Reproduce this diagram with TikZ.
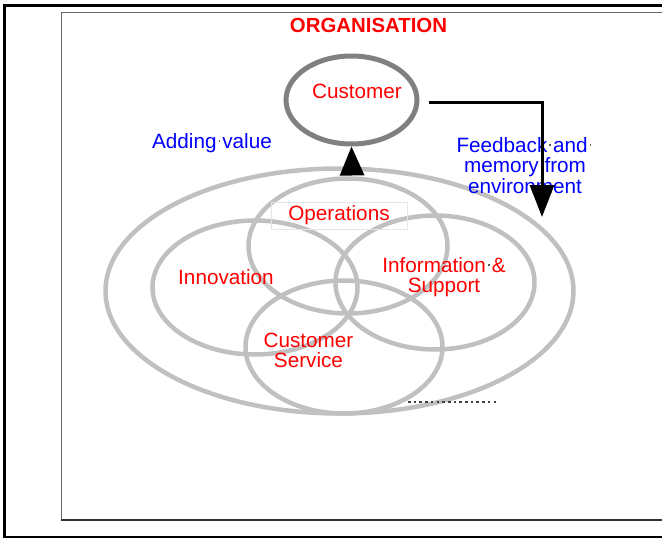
\documentclass[tikz,border=0pt]{standalone}
\usepackage{fontspec}
\setmainfont{Liberation Sans}
\usetikzlibrary{arrows.meta,shapes.geometric}

\definecolor{ringgray}{RGB}{192,192,192}
\definecolor{custgray}{RGB}{128,128,128}
\newcommand{\dotsp}{\makebox[0.278em]{\textcolor{black!65}{\rule[0.3em]{1.7pt}{1.7pt}}}}

\begin{document}
\begin{tikzpicture}[x=1pt, y=-1pt,
  every node/.style={font=\fontsize{20.7}{20.5}\selectfont, align=center, inner sep=0pt},
  ring/.style={ellipse, draw=ringgray, line width=4.5pt},
  lbl/.style={text=red},
  note/.style={text=blue},
  arr/.style={line width=3pt, -{Triangle[length=#1,width=24pt]}},
  arr/.default=32pt
]
\useasboundingbox (0,0) rectangle (662,538);
\clip (0,0) rectangle (662,538);

\draw[black!60, line width=1pt] (700,12) -- (61,12) -- (61,520);
\draw[black!80, line width=1.2pt] (61,520) -- (700,520);
\draw[line width=3pt] (4,540) -- (4,5) -- (700,5);
\draw[line width=1.5pt] (4,537) -- (700,537);

\node[ring, minimum width=468pt, minimum height=245pt] (org) at (339.5,291) {};
\node[ring, minimum width=199pt, minimum height=135pt] (ops) at (348,246) {};
\node[ring, minimum width=205pt, minimum height=134pt] (inno) at (255,287.5) {};
\node[ring, minimum width=199pt, minimum height=134pt] (info) at (435,282.5) {};
\node[ring, minimum width=197pt, minimum height=133pt] (serv) at (344,347) {};
\node[ellipse, draw=custgray, line width=5pt, minimum width=131pt, minimum height=88pt] (cust) at (351.5,100) {};

\node[lbl, font=\fontsize{20.4}{20.5}\selectfont\bfseries, anchor=base] (title) at (368.5,32) {ORGANISATION};
\node[lbl, anchor=base] (custtxt) at (357,98.5) {Customer};
\node[note, anchor=base] (addval) at (212,148) {Adding\dotsp value};
\node[note] (feedback) at (525,165.2) {Feedback\dotsp and\dotsp\\memory\dotsp from\\environment};
\node[lbl, anchor=base, draw=black!10, line width=0.6pt, minimum width=136pt, minimum height=27pt, text depth=6.5pt] (opstxt) at (339,220) {Operations};
\node[lbl, anchor=base] (innotxt) at (226,284) {Innovation};
\node[lbl] (infotxt) at (444,277.3) {Information\dotsp \&\\Support};
\node[lbl] (servtxt) at (308.5,350.2) {Customer\\Service};

\coordinate (opsTop) at (352,173);
\coordinate (fbEnd) at (542,217);
\coordinate (dotA) at (408,402);
\coordinate (dotB) at (499,402);

\draw[arr=29pt] (opsTop) -- (cust.south);
\draw[arr] ([xshift=9pt,yshift=-2pt]cust.east) -| (fbEnd);
\draw[black!75, line width=2.6pt, dash pattern=on 2.6pt off 3.1pt] (dotA) -- (dotB);
\end{tikzpicture}
\end{document}
